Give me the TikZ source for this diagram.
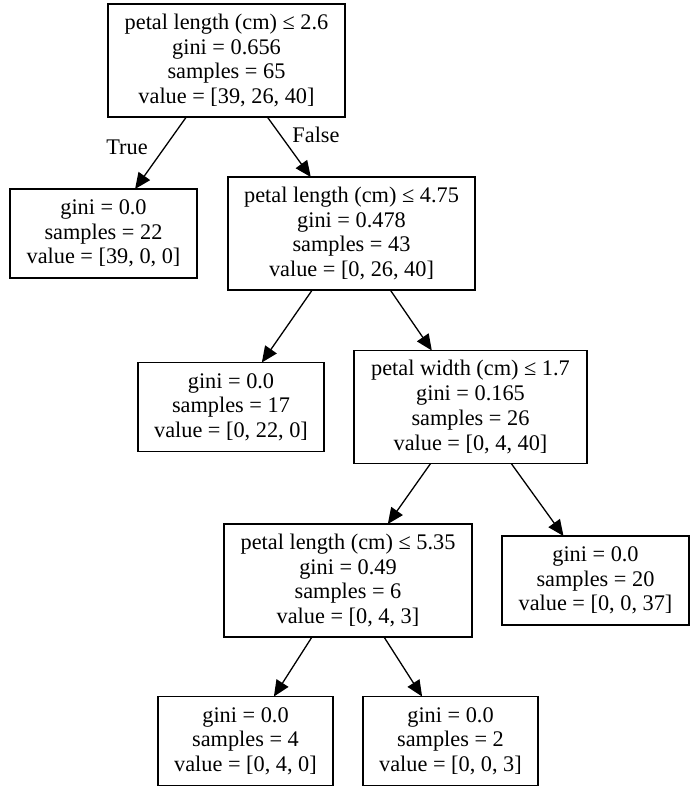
\documentclass[tikz,border=0pt]{standalone}
\usepackage{fontspec}
\setmainfont{Liberation Serif}
\usetikzlibrary{arrows.meta, positioning}

\begin{document}
\begin{tikzpicture}[
        x=1pt, y=-1pt,
        box/.style={rectangle, draw=black, line width=1.3pt, fill=white, align=center, inner sep=0pt, outer sep=0pt, font=\fontsize{22.3}{24.7}\selectfont},
        split/.style={box, minimum height=113pt},
        leaf/.style={box, minimum height=89pt},
        arrow/.style={-{Triangle[length=16pt, width=14pt]}, line width=1.3pt, black},
        edgelabel/.style={font=\fontsize{22.3}{24.7}\selectfont}
    ]
        \useasboundingbox (0,0) rectangle (692,790);

        % Root split
        \node[split, minimum width=237pt] (s0) at (226.5, 60.5) {petal length (cm) ≤ 2.6\\gini = 0.656\\samples = 65\\value = [39, 26, 40]};

        % Level 1
        \node[leaf, minimum width=187pt] (l1) at (103.5, 233.5) {gini = 0.0\\samples = 22\\value = [39, 0, 0]};
        \node[split, minimum width=247pt] (s1) at (351.5, 233.5) {petal length (cm) ≤ 4.75\\gini = 0.478\\samples = 43\\value = [0, 26, 40]};

        % Level 2
        \node[leaf, minimum width=186pt] (l2) at (231, 407) {gini = 0.0\\samples = 17\\value = [0, 22, 0]};
        \node[split, minimum width=233pt] (s2) at (470.5, 407) {petal width (cm) ≤ 1.7\\gini = 0.165\\samples = 26\\value = [0, 4, 40]};

        % Level 3
        \node[split, minimum width=248pt] (s3) at (348, 580.5) {petal length (cm) ≤ 5.35\\gini = 0.49\\samples = 6\\value = [0, 4, 3]};
        \node[leaf, minimum width=187pt] (l3) at (595.5, 580.5) {gini = 0.0\\samples = 20\\value = [0, 0, 37]};

        % Level 4
        \node[leaf, minimum width=175pt] (l4) at (245.5, 741) {gini = 0.0\\samples = 4\\value = [0, 4, 0]};
        \node[leaf, minimum width=175pt] (l5) at (450.5, 741) {gini = 0.0\\samples = 2\\value = [0, 0, 3]};

        % Edges
        \draw[arrow] (s0) -- (l1);
        \draw[arrow] (s0) -- (s1);
        \draw[arrow] (s1) -- (l2);
        \draw[arrow] (s1) -- (s2);
        \draw[arrow] (s2) -- (s3);
        \draw[arrow] (s2) -- (l3);
        \draw[arrow] (s3) -- (l4);
        \draw[arrow] (s3) -- (l5);

        % Edge labels
        \node[edgelabel] (truelab) at (127, 147) {True};
        \node[edgelabel] (falselab) at (316, 135) {False};
    \end{tikzpicture}
\end{document}
